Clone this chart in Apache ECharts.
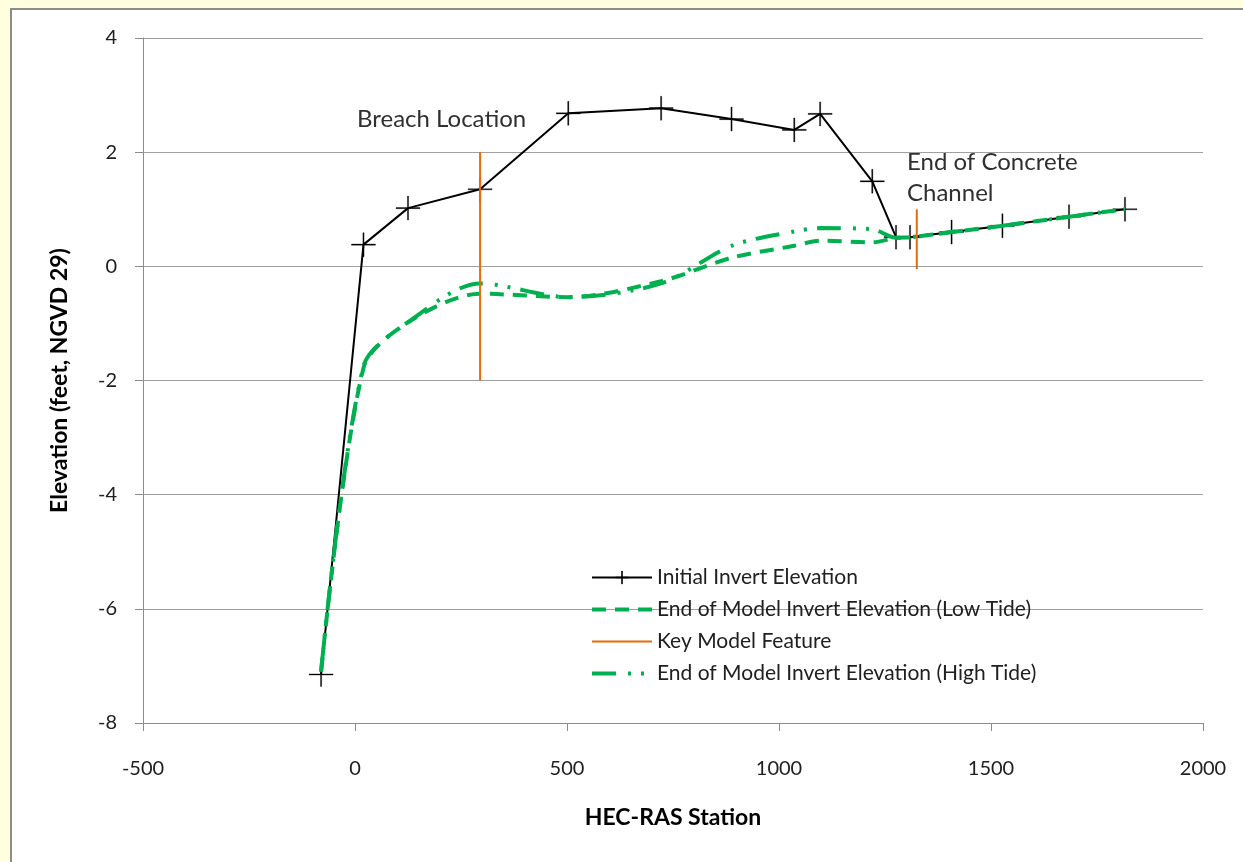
<!DOCTYPE html>
<html>
<head>
<meta charset="utf-8">
<style>
  html, body { margin: 0; padding: 0; background: #ffffff; }
  #chart { width: 1243px; height: 862px; }
</style>
<script src="https://cdn.jsdelivr.net/npm/echarts@6/dist/echarts.min.js"></script>
</head>
<body>
<div id="chart"></div>
<script>
// ---- data ----
const stations = [-80, 20, 125, 295, 503, 722, 888, 1036, 1097, 1220, 1276, 1309, 1407, 1527, 1684, 1816];
const initialInvert = [-7.15, 0.38, 1.02, 1.35, 2.68, 2.77, 2.58, 2.39, 2.67, 1.49, 0.51, 0.51, 0.60, 0.71, 0.87, 1.00];
const lowTide  = [-7.1, -1.78, -0.98, -0.48, -0.54, -0.26, 0.15, 0.36, 0.45, 0.42, 0.50, 0.51, 0.60, 0.71, 0.87, 1.00];
const highTide = [-7.1, -1.75, -0.98, -0.30, -0.54, -0.30, 0.36, 0.61, 0.67, 0.65, 0.50, 0.51, 0.60, 0.71, 0.87, 1.00];
const breachLine   = [[295, 2], [295, -2]];
const concreteLine = [[1325, 1], [1325, -0.05]];
const xTicks = { min: -500, max: 2000, interval: 500 };
const yTicks = { min: -8, max: 4, interval: 2 };
const seriesNames = ['Initial Invert Elevation', 'End of Model Invert Elevation (Low Tide)', 'Key Model Feature', 'End of Model Invert Elevation (High Tide)'];

const pair = (ys) => stations.map((x, i) => [x, ys[i]]);
const FONT = 'Lato';
const plus = 'path://M11.4,0h1.2v11.4h11.4v1.2h-11.4v11.4h-1.2v-11.4h-11.4v-1.2h11.4z';
const GREEN = '#00B050', ORANGE = '#E46C0A';

const chart = echarts.init(document.getElementById('chart'), null, { renderer: 'canvas' });
chart.setOption({
  backgroundColor: '#ffffff',
  animation: false,
  textStyle: { fontFamily: FONT },
  graphic: [
    { type: 'rect', shape: { x: 0, y: 0, width: 1243, height: 8 }, style: { fill: '#FFFFDF' }, silent: true },
    { type: 'rect', shape: { x: 0, y: 0, width: 10, height: 862 }, style: { fill: '#FFFFDF' }, silent: true },
    { type: 'rect', shape: { x: 10, y: 8, width: 1233, height: 2 }, style: { fill: '#8c8c8c' }, silent: true },
    { type: 'rect', shape: { x: 10, y: 8, width: 2, height: 854 }, style: { fill: '#8c8c8c' }, silent: true },
    { type: 'text', left: 357, top: 107, style: { text: 'Breach Location', font: '24px ' + FONT, fill: '#303030' } },
    { type: 'text', left: 907, top: 147, style: { text: 'End of Concrete\nChannel', font: '24px ' + FONT, fill: '#303030', lineHeight: 31 } }
  ],
  grid: { left: 143, right: 40, top: 38, bottom: 139, containLabel: false },
  legend: {
    orient: 'vertical', left: 585, top: 562,
    itemWidth: 60, itemHeight: 16, itemGap: 11,
    textStyle: { fontSize: 21, fontFamily: FONT, color: '#202020' },
    data: [
      { name: seriesNames[0], itemStyle: { borderColor: '#000', borderWidth: 0.8 }, lineStyle: { width: 2 } },
      { name: seriesNames[1], itemStyle: { opacity: 0 }, lineStyle: { width: 4 } },
      { name: seriesNames[2], itemStyle: { opacity: 0 }, lineStyle: { width: 2 } },
      { name: seriesNames[3], itemStyle: { opacity: 0 }, lineStyle: { width: 4 } }
    ]
  },
  xAxis: {
    type: 'value', min: xTicks.min, max: xTicks.max, interval: xTicks.interval,
    name: 'HEC-RAS Station', nameLocation: 'middle', nameGap: 83,
    nameTextStyle: { fontSize: 23, fontWeight: 'bold', fontFamily: FONT, color: '#000' },
    axisLine: { show: true, onZero: false, lineStyle: { color: '#8c8c8c', width: 1 } },
    axisTick: { show: true, inside: false, length: 8, lineStyle: { color: '#8c8c8c' } },
    axisLabel: { margin: 36, fontSize: 20, color: '#202020', fontFamily: FONT, formatter: (v) => String(v) },
    splitLine: { show: false }
  },
  yAxis: {
    type: 'value', min: yTicks.min, max: yTicks.max, interval: yTicks.interval,
    name: 'Elevation (feet, NGVD 29)', nameLocation: 'middle', nameGap: 72, nameRotate: 90,
    nameTextStyle: { fontSize: 23, fontWeight: 'bold', fontFamily: FONT, color: '#000' },
    axisLine: { show: true, onZero: false, lineStyle: { color: '#8c8c8c', width: 1 } },
    axisTick: { show: true, inside: false, length: 8, lineStyle: { color: '#8c8c8c' } },
    axisLabel: { margin: 26, fontSize: 20, color: '#202020', fontFamily: FONT },
    splitLine: { show: true, lineStyle: { color: '#a0a0a0', width: 1 } }
  },
  series: [
    {
      name: seriesNames[0], type: 'line', data: pair(initialInvert),
      symbol: plus, symbolSize: 24, showSymbol: true,
      itemStyle: { color: '#000', borderColor: '#000', borderWidth: 0.3 },
      lineStyle: { color: '#000', width: 2 }, z: 2
    },
    {
      name: seriesNames[1], type: 'line', data: pair(lowTide),
      symbol: 'none', smooth: 0.3,
      itemStyle: { color: GREEN },
      lineStyle: { color: GREEN, width: 4, type: [14, 9] }, z: 3
    },
    {
      name: seriesNames[2], type: 'line', data: breachLine,
      symbol: 'none', itemStyle: { color: ORANGE },
      lineStyle: { color: ORANGE, width: 2 }, z: 5
    },
    {
      name: seriesNames[2], type: 'line', data: concreteLine,
      symbol: 'none', itemStyle: { color: ORANGE },
      lineStyle: { color: ORANGE, width: 2 }, z: 5
    },
    {
      name: seriesNames[3], type: 'line', data: pair(highTide),
      symbol: 'none', smooth: 0.3,
      itemStyle: { color: GREEN },
      lineStyle: { color: GREEN, width: 4, type: [24, 12, 3, 10, 3, 10] }, z: 4
    }
  ]
});
</script>
</body>
</html>
